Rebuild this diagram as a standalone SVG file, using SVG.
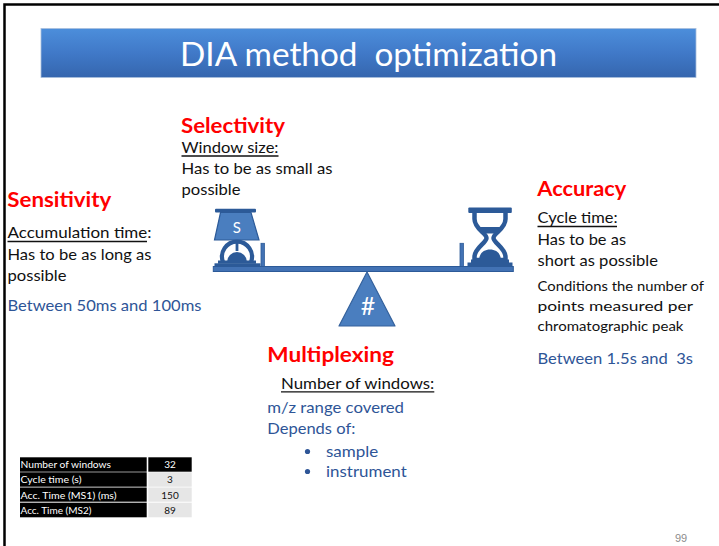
<svg xmlns="http://www.w3.org/2000/svg" width="719" height="546" viewBox="0 0 719 546">
  <defs>
    <linearGradient id="titleFill" x1="0" y1="0" x2="0" y2="1">
      <stop offset="0" stop-color="#4c8edb"/>
      <stop offset="0.5" stop-color="#4079c8"/>
      <stop offset="1" stop-color="#3566ae"/>
    </linearGradient>
    <style>
      text { font-family: Lato, "Liberation Sans", sans-serif; white-space: pre; }
      .head { font-size: 21px; font-weight: bold; fill: #ff0000; }
      .body { font-size: 16px; fill: #111111; }
      .small { font-size: 14px; fill: #111111; }
      .blue { font-size: 16px; fill: #2e5597; }
      .ul { stroke: #111111; stroke-width: 1.3; }
      .dark { fill: #2c5a98; }
      .mid { fill: #4a7ebf; stroke: #2c5a98; stroke-width: 1.2; }
      .cellL { fill: #000000; }
      .cellV { fill: #e6e6e6; }
      .tl { font-size: 10px; fill: #ffffff; }
      .tv { font-size: 10px; fill: #111111; text-anchor: middle; }
    </style>
  </defs>

  <rect width="719" height="546" fill="#ffffff"/>
  <!-- slide frame -->
  <rect x="4.5" y="4.5" width="800" height="600" fill="none" stroke="#000000" stroke-width="2.5"/>

  <!-- title banner -->
  <g id="title">
    <rect x="41" y="28.5" width="655" height="49" fill="url(#titleFill)" stroke="#a9bfdc" stroke-width="0.8"/>
    <text x="180" y="66" font-size="33" fill="#ffffff" textLength="377" lengthAdjust="spacingAndGlyphs">DIA method  optimization</text>
  </g>

  <!-- selectivity -->
  <g id="selectivity">
    <text class="head" x="181" y="133" textLength="104" lengthAdjust="spacingAndGlyphs">Selectivity</text>
    <text class="body" x="181.5" y="153" textLength="97" lengthAdjust="spacingAndGlyphs">Window size:</text>
    <line class="ul" x1="181.5" y1="156" x2="278.5" y2="156"/>
    <text class="body" x="181.5" y="174" textLength="151" lengthAdjust="spacingAndGlyphs">Has to be as small as</text>
    <text class="body" x="181.5" y="195" textLength="59" lengthAdjust="spacingAndGlyphs">possible</text>
  </g>

  <!-- sensitivity -->
  <g id="sensitivity">
    <text class="head" x="7.3" y="207" textLength="104" lengthAdjust="spacingAndGlyphs">Sensitivity</text>
    <text class="body" x="7.5" y="238" textLength="144" lengthAdjust="spacingAndGlyphs">Accumulation time:</text>
    <line class="ul" x1="7.5" y1="241.5" x2="147" y2="241.5"/>
    <text class="body" x="7.5" y="260" textLength="144" lengthAdjust="spacingAndGlyphs">Has to be as long as</text>
    <text class="body" x="7.5" y="281" textLength="59" lengthAdjust="spacingAndGlyphs">possible</text>
    <text class="blue" x="7.5" y="311" textLength="194" lengthAdjust="spacingAndGlyphs">Between 50ms and 100ms</text>
  </g>

  <!-- accuracy -->
  <g id="accuracy">
    <text class="head" x="537.3" y="196" textLength="89" lengthAdjust="spacingAndGlyphs">Accuracy</text>
    <text class="body" x="537.5" y="223" textLength="80" lengthAdjust="spacingAndGlyphs">Cycle time:</text>
    <line class="ul" x1="537.5" y1="226.5" x2="617" y2="226.5"/>
    <text class="body" x="537.5" y="245" textLength="88.5" lengthAdjust="spacingAndGlyphs">Has to be as</text>
    <text class="body" x="537.5" y="266" textLength="120.5" lengthAdjust="spacingAndGlyphs">short as possible</text>
    <text class="small" x="537.5" y="291" textLength="166.5" lengthAdjust="spacingAndGlyphs">Conditions the number of</text>
    <text class="small" x="537.5" y="311" textLength="155.5" lengthAdjust="spacingAndGlyphs">points measured per</text>
    <text class="small" x="537.5" y="331" textLength="146" lengthAdjust="spacingAndGlyphs">chromatographic peak</text>
    <text class="blue" x="537.5" y="364" textLength="155.5" lengthAdjust="spacingAndGlyphs">Between 1.5s and  3s</text>
  </g>

  <!-- multiplexing -->
  <g id="multiplexing">
    <text class="head" x="267.3" y="361.5" textLength="126.7" lengthAdjust="spacingAndGlyphs">Multiplexing</text>
    <text class="body" x="281" y="388.5" textLength="153.3" lengthAdjust="spacingAndGlyphs">Number of windows:</text>
    <line class="ul" x1="281" y1="391.8" x2="434.3" y2="391.8"/>
    <text class="blue" x="267.3" y="412.7" textLength="136.7" lengthAdjust="spacingAndGlyphs">m/z range covered</text>
    <text class="blue" x="267.3" y="434" textLength="88" lengthAdjust="spacingAndGlyphs">Depends of:</text>
    <circle cx="307.5" cy="451.5" r="2.6" fill="#2e5597"/>
    <text class="blue" x="326" y="457.3" textLength="52.3" lengthAdjust="spacingAndGlyphs">sample</text>
    <circle cx="307.5" cy="471.5" r="2.6" fill="#2e5597"/>
    <text class="blue" x="326" y="477.3" textLength="80.7" lengthAdjust="spacingAndGlyphs">instrument</text>
  </g>

  <!-- balance: beam, posts, fulcrum and the two weights -->
  <g id="balance">
    <!-- left weight: lamp -->
    <g id="lamp">
      <rect class="dark" x="215" y="208.7" width="41" height="3.8" rx="1"/>
      <path class="mid" d="M220.5 212.5 L251 212.5 L259 240 L214.5 240 Z"/>
      <text x="236.7" y="233.3" font-size="15" fill="#ffffff" text-anchor="middle">S</text>
      <rect class="dark" x="235.6" y="240" width="2.8" height="11"/>
      <path d="M223 262 A15 15 0 1 1 251 262" fill="none" stroke="#2c5a98" stroke-width="4.2"/>
      <path class="dark" d="M227 262 A10 10 0 0 1 247 262 Z"/>
      <rect class="dark" x="218" y="260.5" width="38" height="3.2"/>
      <rect class="dark" x="214.5" y="263.3" width="46" height="3.4"/>
    </g>
    <!-- right weight: hourglass -->
    <g id="hourglass">
      <rect class="dark" x="468.3" y="207.5" width="43.5" height="5.5" rx="1"/>
      <path d="M474.5 213 L474.5 219 C474.5 229 486.5 233 486.5 238 C486.5 243 474.5 248 474.5 257 L474.5 260 L505.5 260 L505.5 257 C505.5 248 493.5 243 493.5 238 C493.5 233 505.5 229 505.5 219 L505.5 213"
            fill="#ffffff" stroke="#2c5a98" stroke-width="4.5" stroke-linejoin="round"/>
      <path class="dark" d="M479.5 227 L500.5 227 L495 233.5 L485 233.5 Z"/>
      <path class="dark" d="M479 261 C479 253 484 249.5 490 249.5 C496 249.5 501 253 501 261 Z"/>
      <rect class="dark" x="471" y="259.5" width="38" height="3.5"/>
      <rect class="dark" x="467.5" y="262.5" width="45" height="4.3"/>
    </g>
    <!-- posts -->
    <rect x="261" y="243.3" width="3.4" height="28" fill="#4272b4" stroke="#2c5a98" stroke-width="0.8"/>
    <rect x="460" y="243.3" width="3.4" height="28" fill="#4272b4" stroke="#2c5a98" stroke-width="0.8"/>
    <!-- beam -->
    <rect x="213.3" y="266.5" width="300" height="5" fill="#4272b4" stroke="#2c5a98" stroke-width="1"/>
    <!-- fulcrum -->
    <g id="fulcrum">
      <path d="M367 272 L395 326 L339 326 Z" fill="#4a7ebf" stroke="#34619c" stroke-width="1.2" stroke-linejoin="round"/>
      <text x="368" y="315" font-size="25" fill="#ffffff" text-anchor="middle">#</text>
    </g>
  </g>

  <!-- parameter table -->
  <g id="params-table">
    <rect class="cellL" x="20" y="457.3" width="126.7" height="14.4"/>
    <rect class="cellL" x="148.3" y="457.3" width="43.4" height="14.4"/>
    <rect class="cellL" x="20" y="472.3" width="126.7" height="14.4"/>
    <rect class="cellV" x="148.3" y="472.3" width="43.4" height="14.4"/>
    <rect class="cellL" x="20" y="487.5" width="126.7" height="14.2"/>
    <rect class="cellV" x="148.3" y="487.5" width="43.4" height="14.2"/>
    <rect class="cellL" x="20" y="502.7" width="126.7" height="14.6"/>
    <rect class="cellV" x="148.3" y="502.7" width="43.4" height="14.6"/>
    <text class="tl" x="20.5" y="468.3" textLength="90.5" lengthAdjust="spacingAndGlyphs">Number of windows</text>
    <text class="tl" x="20.5" y="483.3" textLength="61" lengthAdjust="spacingAndGlyphs">Cycle time (s)</text>
    <text class="tl" x="20.5" y="498.5" textLength="96" lengthAdjust="spacingAndGlyphs">Acc. Time (MS1) (ms)</text>
    <text class="tl" x="20.5" y="513.5" textLength="71" lengthAdjust="spacingAndGlyphs">Acc. Time (MS2)</text>
    <text class="tv" x="170" y="468.3" fill="#ffffff" style="fill:#ffffff">32</text>
    <text class="tv" x="170" y="483.3">3</text>
    <text class="tv" x="170" y="498.5">150</text>
    <text class="tv" x="170" y="513.5">89</text>
  </g>

  <!-- slide number -->
  <g id="page-number">
    <text x="675" y="541.5" font-size="11" fill="#8c8c8c" style="font-family:'Liberation Sans', sans-serif">99</text>
  </g>
</svg>
